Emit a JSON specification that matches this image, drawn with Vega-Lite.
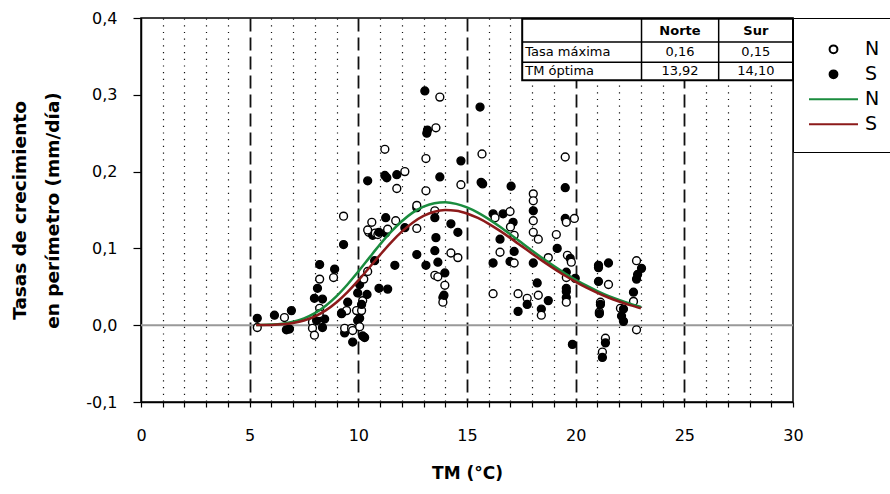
{
  "$schema": "https://vega.github.io/schema/vega-lite/v6.json",
  "width": 652,
  "height": 384,
  "autosize": {"type": "none"},
  "padding": {"left": 141, "top": 18, "right": 97, "bottom": 92},
  "background": "white",
  "config": {
    "font": "DejaVu Sans",
    "view": {"stroke": "black", "strokeWidth": 1.5},
    "axis": {"labelFont": "DejaVu Sans", "titleFont": "DejaVu Sans", "labelColor": "black", "titleColor": "black", "domainColor": "black", "tickColor": "black", "domainWidth": 1.5, "tickWidth": 1.2, "labelFlush": false, "labelOverlap": false}
  },
  "datasets": {
    "obs": [
      {"tm": 5.35, "tasa": 0.009, "serie": "S obs"},
      {"tm": 5.35, "tasa": -0.003, "serie": "N obs"},
      {"tm": 6.14, "tasa": 0.013, "serie": "S obs"},
      {"tm": 6.60, "tasa": 0.010, "serie": "N obs"},
      {"tm": 6.92, "tasa": 0.019, "serie": "S obs"},
      {"tm": 6.69, "tasa": -0.006, "serie": "S obs"},
      {"tm": 6.83, "tasa": -0.005, "serie": "S obs"},
      {"tm": 8.22, "tasa": 0.079, "serie": "S obs"},
      {"tm": 8.22, "tasa": 0.060, "serie": "N obs"},
      {"tm": 8.12, "tasa": 0.048, "serie": "S obs"},
      {"tm": 7.98, "tasa": 0.035, "serie": "S obs"},
      {"tm": 8.35, "tasa": 0.034, "serie": "S obs"},
      {"tm": 8.22, "tasa": 0.022, "serie": "N obs"},
      {"tm": 8.12, "tasa": 0.012, "serie": "S obs"},
      {"tm": 7.89, "tasa": 0.004, "serie": "N obs"},
      {"tm": 8.45, "tasa": 0.008, "serie": "S obs"},
      {"tm": 8.08, "tasa": 0.006, "serie": "S obs"},
      {"tm": 7.89, "tasa": -0.004, "serie": "N obs"},
      {"tm": 8.35, "tasa": -0.003, "serie": "S obs"},
      {"tm": 7.98, "tasa": -0.013, "serie": "N obs"},
      {"tm": 8.20, "tasa": 0.015, "serie": "N obs"},
      {"tm": 8.91, "tasa": 0.073, "serie": "S obs"},
      {"tm": 8.86, "tasa": 0.062, "serie": "N obs"},
      {"tm": 9.32, "tasa": 0.142, "serie": "N obs"},
      {"tm": 9.32, "tasa": 0.105, "serie": "S obs"},
      {"tm": 9.51, "tasa": 0.030, "serie": "S obs"},
      {"tm": 9.23, "tasa": 0.016, "serie": "N obs"},
      {"tm": 9.46, "tasa": 0.019, "serie": "N obs"},
      {"tm": 9.23, "tasa": 0.015, "serie": "S obs"},
      {"tm": 9.37, "tasa": -0.010, "serie": "S obs"},
      {"tm": 9.37, "tasa": -0.004, "serie": "N obs"},
      {"tm": 9.69, "tasa": -0.004, "serie": "N obs"},
      {"tm": 9.74, "tasa": -0.022, "serie": "S obs"},
      {"tm": 9.74, "tasa": -0.007, "serie": "N obs"},
      {"tm": 10.20, "tasa": -0.014, "serie": "S obs"},
      {"tm": 10.29, "tasa": -0.016, "serie": "S obs"},
      {"tm": 9.92, "tasa": 0.019, "serie": "N obs"},
      {"tm": 9.97, "tasa": 0.042, "serie": "S obs"},
      {"tm": 10.06, "tasa": 0.009, "serie": "S obs"},
      {"tm": 10.20, "tasa": 0.032, "serie": "N obs"},
      {"tm": 10.15, "tasa": 0.019, "serie": "N obs"},
      {"tm": 10.06, "tasa": 0.053, "serie": "S obs"},
      {"tm": 10.25, "tasa": 0.060, "serie": "N obs"},
      {"tm": 9.97, "tasa": 0.006, "serie": "S obs"},
      {"tm": 10.15, "tasa": 0.027, "serie": "S obs"},
      {"tm": 10.06, "tasa": -0.002, "serie": "N obs"},
      {"tm": 10.43, "tasa": 0.070, "serie": "N obs"},
      {"tm": 10.40, "tasa": 0.040, "serie": "S obs"},
      {"tm": 10.43, "tasa": 0.188, "serie": "S obs"},
      {"tm": 10.62, "tasa": 0.134, "serie": "N obs"},
      {"tm": 10.48, "tasa": 0.121, "serie": "N obs"},
      {"tm": 10.66, "tasa": 0.117, "serie": "S obs"},
      {"tm": 10.43, "tasa": 0.124, "serie": "N obs"},
      {"tm": 10.78, "tasa": 0.120, "serie": "N obs"},
      {"tm": 10.90, "tasa": 0.118, "serie": "N obs"},
      {"tm": 10.95, "tasa": 0.121, "serie": "S obs"},
      {"tm": 10.95, "tasa": 0.048, "serie": "S obs"},
      {"tm": 10.75, "tasa": 0.084, "serie": "S obs"},
      {"tm": 11.35, "tasa": 0.047, "serie": "S obs"},
      {"tm": 11.22, "tasa": 0.229, "serie": "N obs"},
      {"tm": 11.22, "tasa": 0.195, "serie": "S obs"},
      {"tm": 11.31, "tasa": 0.192, "serie": "S obs"},
      {"tm": 11.77, "tasa": 0.196, "serie": "S obs"},
      {"tm": 12.14, "tasa": 0.200, "serie": "N obs"},
      {"tm": 11.77, "tasa": 0.178, "serie": "N obs"},
      {"tm": 11.26, "tasa": 0.140, "serie": "S obs"},
      {"tm": 11.72, "tasa": 0.136, "serie": "N obs"},
      {"tm": 11.26, "tasa": 0.120, "serie": "S obs"},
      {"tm": 12.14, "tasa": 0.127, "serie": "S obs"},
      {"tm": 11.68, "tasa": 0.078, "serie": "S obs"},
      {"tm": 11.35, "tasa": 0.125, "serie": "N obs"},
      {"tm": 12.69, "tasa": 0.153, "serie": "S obs"},
      {"tm": 12.69, "tasa": 0.156, "serie": "N obs"},
      {"tm": 12.69, "tasa": 0.126, "serie": "N obs"},
      {"tm": 12.69, "tasa": 0.092, "serie": "S obs"},
      {"tm": 13.06, "tasa": 0.305, "serie": "S obs"},
      {"tm": 13.75, "tasa": 0.297, "serie": "N obs"},
      {"tm": 13.15, "tasa": 0.250, "serie": "S obs"},
      {"tm": 13.18, "tasa": 0.254, "serie": "S obs"},
      {"tm": 13.57, "tasa": 0.257, "serie": "N obs"},
      {"tm": 13.11, "tasa": 0.217, "serie": "N obs"},
      {"tm": 13.11, "tasa": 0.175, "serie": "N obs"},
      {"tm": 13.11, "tasa": 0.078, "serie": "S obs"},
      {"tm": 13.75, "tasa": 0.193, "serie": "S obs"},
      {"tm": 13.52, "tasa": 0.149, "serie": "N obs"},
      {"tm": 13.52, "tasa": 0.140, "serie": "S obs"},
      {"tm": 13.57, "tasa": 0.114, "serie": "S obs"},
      {"tm": 13.52, "tasa": 0.097, "serie": "S obs"},
      {"tm": 13.66, "tasa": 0.082, "serie": "S obs"},
      {"tm": 13.52, "tasa": 0.065, "serie": "N obs"},
      {"tm": 13.66, "tasa": 0.063, "serie": "N obs"},
      {"tm": 13.98, "tasa": 0.068, "serie": "S obs"},
      {"tm": 13.98, "tasa": 0.052, "serie": "N obs"},
      {"tm": 13.89, "tasa": 0.036, "serie": "S obs"},
      {"tm": 13.89, "tasa": 0.030, "serie": "N obs"},
      {"tm": 13.94, "tasa": 0.039, "serie": "S obs"},
      {"tm": 14.26, "tasa": 0.132, "serie": "S obs"},
      {"tm": 14.58, "tasa": 0.121, "serie": "S obs"},
      {"tm": 14.26, "tasa": 0.094, "serie": "N obs"},
      {"tm": 14.58, "tasa": 0.088, "serie": "N obs"},
      {"tm": 14.72, "tasa": 0.214, "serie": "S obs"},
      {"tm": 14.72, "tasa": 0.183, "serie": "N obs"},
      {"tm": 15.60, "tasa": 0.284, "serie": "S obs"},
      {"tm": 15.69, "tasa": 0.223, "serie": "N obs"},
      {"tm": 15.65, "tasa": 0.186, "serie": "S obs"},
      {"tm": 15.72, "tasa": 0.184, "serie": "S obs"},
      {"tm": 16.20, "tasa": 0.145, "serie": "S obs"},
      {"tm": 16.66, "tasa": 0.145, "serie": "S obs"},
      {"tm": 16.29, "tasa": 0.140, "serie": "N obs"},
      {"tm": 16.98, "tasa": 0.148, "serie": "N obs"},
      {"tm": 17.12, "tasa": 0.134, "serie": "S obs"},
      {"tm": 17.00, "tasa": 0.128, "serie": "N obs"},
      {"tm": 17.17, "tasa": 0.117, "serie": "N obs"},
      {"tm": 16.52, "tasa": 0.112, "serie": "S obs"},
      {"tm": 16.52, "tasa": 0.095, "serie": "N obs"},
      {"tm": 17.17, "tasa": 0.096, "serie": "S obs"},
      {"tm": 16.98, "tasa": 0.083, "serie": "S obs"},
      {"tm": 17.17, "tasa": 0.081, "serie": "N obs"},
      {"tm": 16.20, "tasa": 0.081, "serie": "S obs"},
      {"tm": 17.03, "tasa": 0.181, "serie": "S obs"},
      {"tm": 16.20, "tasa": 0.041, "serie": "N obs"},
      {"tm": 17.35, "tasa": 0.041, "serie": "N obs"},
      {"tm": 17.77, "tasa": 0.035, "serie": "N obs"},
      {"tm": 17.35, "tasa": 0.018, "serie": "S obs"},
      {"tm": 17.77, "tasa": 0.027, "serie": "S obs"},
      {"tm": 18.05, "tasa": 0.171, "serie": "N obs"},
      {"tm": 18.05, "tasa": 0.162, "serie": "N obs"},
      {"tm": 18.05, "tasa": 0.149, "serie": "S obs"},
      {"tm": 18.05, "tasa": 0.136, "serie": "N obs"},
      {"tm": 18.05, "tasa": 0.121, "serie": "N obs"},
      {"tm": 18.28, "tasa": 0.112, "serie": "N obs"},
      {"tm": 18.05, "tasa": 0.081, "serie": "S obs"},
      {"tm": 18.23, "tasa": 0.055, "serie": "S obs"},
      {"tm": 18.28, "tasa": 0.039, "serie": "N obs"},
      {"tm": 18.42, "tasa": 0.021, "serie": "S obs"},
      {"tm": 18.42, "tasa": 0.013, "serie": "N obs"},
      {"tm": 18.74, "tasa": 0.032, "serie": "S obs"},
      {"tm": 18.74, "tasa": 0.088, "serie": "N obs"},
      {"tm": 19.11, "tasa": 0.118, "serie": "N obs"},
      {"tm": 19.15, "tasa": 0.100, "serie": "S obs"},
      {"tm": 19.52, "tasa": 0.219, "serie": "N obs"},
      {"tm": 19.52, "tasa": 0.179, "serie": "S obs"},
      {"tm": 19.52, "tasa": 0.139, "serie": "S obs"},
      {"tm": 19.57, "tasa": 0.134, "serie": "N obs"},
      {"tm": 19.94, "tasa": 0.139, "serie": "N obs"},
      {"tm": 19.62, "tasa": 0.091, "serie": "N obs"},
      {"tm": 19.75, "tasa": 0.087, "serie": "S obs"},
      {"tm": 19.80, "tasa": 0.082, "serie": "N obs"},
      {"tm": 19.57, "tasa": 0.069, "serie": "S obs"},
      {"tm": 19.57, "tasa": 0.062, "serie": "N obs"},
      {"tm": 19.98, "tasa": 0.061, "serie": "S obs"},
      {"tm": 19.57, "tasa": 0.048, "serie": "S obs"},
      {"tm": 19.57, "tasa": 0.044, "serie": "S obs"},
      {"tm": 19.57, "tasa": 0.036, "serie": "S obs"},
      {"tm": 19.57, "tasa": 0.030, "serie": "N obs"},
      {"tm": 19.85, "tasa": -0.025, "serie": "S obs"},
      {"tm": 21.05, "tasa": 0.078, "serie": "S obs"},
      {"tm": 21.05, "tasa": 0.075, "serie": "S obs"},
      {"tm": 21.51, "tasa": 0.081, "serie": "S obs"},
      {"tm": 21.05, "tasa": 0.057, "serie": "S obs"},
      {"tm": 21.51, "tasa": 0.053, "serie": "N obs"},
      {"tm": 21.14, "tasa": 0.030, "serie": "N obs"},
      {"tm": 21.14, "tasa": 0.027, "serie": "S obs"},
      {"tm": 21.09, "tasa": 0.017, "serie": "N obs"},
      {"tm": 21.09, "tasa": 0.015, "serie": "S obs"},
      {"tm": 22.06, "tasa": 0.022, "serie": "N obs"},
      {"tm": 22.20, "tasa": 0.021, "serie": "S obs"},
      {"tm": 22.11, "tasa": 0.012, "serie": "S obs"},
      {"tm": 22.20, "tasa": 0.005, "serie": "S obs"},
      {"tm": 21.37, "tasa": -0.017, "serie": "N obs"},
      {"tm": 21.37, "tasa": -0.023, "serie": "S obs"},
      {"tm": 21.23, "tasa": -0.035, "serie": "N obs"},
      {"tm": 21.23, "tasa": -0.042, "serie": "S obs"},
      {"tm": 22.80, "tasa": 0.084, "serie": "N obs"},
      {"tm": 23.03, "tasa": 0.074, "serie": "S obs"},
      {"tm": 22.85, "tasa": 0.066, "serie": "S obs"},
      {"tm": 22.80, "tasa": 0.060, "serie": "S obs"},
      {"tm": 22.66, "tasa": 0.043, "serie": "S obs"},
      {"tm": 22.66, "tasa": 0.031, "serie": "N obs"},
      {"tm": 22.80, "tasa": -0.006, "serie": "N obs"}
    ],
    "ajuste": [
      {"tm": 5.3, "tasa": 0.0001, "serie": "N ajuste"},
      {"tm": 5.5, "tasa": 0.0002, "serie": "N ajuste"},
      {"tm": 6, "tasa": 0.0008, "serie": "N ajuste"},
      {"tm": 6.5, "tasa": 0.0020, "serie": "N ajuste"},
      {"tm": 7, "tasa": 0.0045, "serie": "N ajuste"},
      {"tm": 7.5, "tasa": 0.0089, "serie": "N ajuste"},
      {"tm": 8, "tasa": 0.0157, "serie": "N ajuste"},
      {"tm": 8.5, "tasa": 0.0254, "serie": "N ajuste"},
      {"tm": 9, "tasa": 0.0379, "serie": "N ajuste"},
      {"tm": 9.5, "tasa": 0.0530, "serie": "N ajuste"},
      {"tm": 10, "tasa": 0.0699, "serie": "N ajuste"},
      {"tm": 10.5, "tasa": 0.0877, "serie": "N ajuste"},
      {"tm": 11, "tasa": 0.1052, "serie": "N ajuste"},
      {"tm": 11.5, "tasa": 0.1214, "serie": "N ajuste"},
      {"tm": 12, "tasa": 0.1354, "serie": "N ajuste"},
      {"tm": 12.5, "tasa": 0.1466, "serie": "N ajuste"},
      {"tm": 13, "tasa": 0.1544, "serie": "N ajuste"},
      {"tm": 13.5, "tasa": 0.1589, "serie": "N ajuste"},
      {"tm": 14, "tasa": 0.1600, "serie": "N ajuste"},
      {"tm": 14.5, "tasa": 0.1580, "serie": "N ajuste"},
      {"tm": 15, "tasa": 0.1534, "serie": "N ajuste"},
      {"tm": 15.5, "tasa": 0.1466, "serie": "N ajuste"},
      {"tm": 16, "tasa": 0.1381, "serie": "N ajuste"},
      {"tm": 16.5, "tasa": 0.1285, "serie": "N ajuste"},
      {"tm": 17, "tasa": 0.1182, "serie": "N ajuste"},
      {"tm": 17.5, "tasa": 0.1076, "serie": "N ajuste"},
      {"tm": 18, "tasa": 0.0970, "serie": "N ajuste"},
      {"tm": 18.5, "tasa": 0.0867, "serie": "N ajuste"},
      {"tm": 19, "tasa": 0.0769, "serie": "N ajuste"},
      {"tm": 19.5, "tasa": 0.0677, "serie": "N ajuste"},
      {"tm": 20, "tasa": 0.0592, "serie": "N ajuste"},
      {"tm": 20.5, "tasa": 0.0515, "serie": "N ajuste"},
      {"tm": 21, "tasa": 0.0445, "serie": "N ajuste"},
      {"tm": 21.5, "tasa": 0.0382, "serie": "N ajuste"},
      {"tm": 22, "tasa": 0.0328, "serie": "N ajuste"},
      {"tm": 22.5, "tasa": 0.0279, "serie": "N ajuste"},
      {"tm": 23, "tasa": 0.0237, "serie": "N ajuste"},
      {"tm": 5.3, "tasa": 0.0001, "serie": "S ajuste"},
      {"tm": 5.5, "tasa": 0.0001, "serie": "S ajuste"},
      {"tm": 6, "tasa": 0.0004, "serie": "S ajuste"},
      {"tm": 6.5, "tasa": 0.0012, "serie": "S ajuste"},
      {"tm": 7, "tasa": 0.0030, "serie": "S ajuste"},
      {"tm": 7.5, "tasa": 0.0062, "serie": "S ajuste"},
      {"tm": 8, "tasa": 0.0115, "serie": "S ajuste"},
      {"tm": 8.5, "tasa": 0.0193, "serie": "S ajuste"},
      {"tm": 9, "tasa": 0.0299, "serie": "S ajuste"},
      {"tm": 9.5, "tasa": 0.0431, "serie": "S ajuste"},
      {"tm": 10, "tasa": 0.0583, "serie": "S ajuste"},
      {"tm": 10.5, "tasa": 0.0748, "serie": "S ajuste"},
      {"tm": 11, "tasa": 0.0916, "serie": "S ajuste"},
      {"tm": 11.5, "tasa": 0.1076, "serie": "S ajuste"},
      {"tm": 12, "tasa": 0.1218, "serie": "S ajuste"},
      {"tm": 12.5, "tasa": 0.1335, "serie": "S ajuste"},
      {"tm": 13, "tasa": 0.1423, "serie": "S ajuste"},
      {"tm": 13.5, "tasa": 0.1478, "serie": "S ajuste"},
      {"tm": 14, "tasa": 0.1499, "serie": "S ajuste"},
      {"tm": 14.5, "tasa": 0.1491, "serie": "S ajuste"},
      {"tm": 15, "tasa": 0.1455, "serie": "S ajuste"},
      {"tm": 15.5, "tasa": 0.1396, "serie": "S ajuste"},
      {"tm": 16, "tasa": 0.1320, "serie": "S ajuste"},
      {"tm": 16.5, "tasa": 0.1231, "serie": "S ajuste"},
      {"tm": 17, "tasa": 0.1134, "serie": "S ajuste"},
      {"tm": 17.5, "tasa": 0.1033, "serie": "S ajuste"},
      {"tm": 18, "tasa": 0.0931, "serie": "S ajuste"},
      {"tm": 18.5, "tasa": 0.0831, "serie": "S ajuste"},
      {"tm": 19, "tasa": 0.0737, "serie": "S ajuste"},
      {"tm": 19.5, "tasa": 0.0647, "serie": "S ajuste"},
      {"tm": 20, "tasa": 0.0565, "serie": "S ajuste"},
      {"tm": 20.5, "tasa": 0.0489, "serie": "S ajuste"},
      {"tm": 21, "tasa": 0.0422, "serie": "S ajuste"},
      {"tm": 21.5, "tasa": 0.0361, "serie": "S ajuste"},
      {"tm": 22, "tasa": 0.0308, "serie": "S ajuste"},
      {"tm": 22.5, "tasa": 0.0261, "serie": "S ajuste"},
      {"tm": 23, "tasa": 0.0221, "serie": "S ajuste"}
    ],
    "cero": [
      {"x1": 0, "x2": 30, "y": 0}
    ],
    "tablaMarco": [
      {"x1": 17.54, "x2": 30, "y1": 0.399, "y2": 0.319}
    ],
    "tablaLineas": [
      {"x1": 17.54, "x2": 30, "y1": 0.3686, "y2": 0.3686},
      {"x1": 17.54, "x2": 30, "y1": 0.3425, "y2": 0.3425},
      {"x1": 23.03, "x2": 23.03, "y1": 0.399, "y2": 0.319},
      {"x1": 26.58, "x2": 26.58, "y1": 0.399, "y2": 0.319}
    ],
    "tablaCabecera": [
      {"tx": 24.80, "ty": 0.3835, "texto": "Norte"},
      {"tx": 28.29, "ty": 0.3835, "texto": "Sur"}
    ],
    "tablaFilas": [
      {"tx": 17.68, "ty": 0.3556, "texto": "Tasa máxima"},
      {"tx": 17.68, "ty": 0.3307, "texto": "TM óptima"}
    ],
    "tablaValores": [
      {"tx": 24.80, "ty": 0.3556, "texto": "0,16"},
      {"tx": 28.29, "ty": 0.3556, "texto": "0,15"},
      {"tx": 24.80, "ty": 0.3307, "texto": "13,92"},
      {"tx": 28.29, "ty": 0.3307, "texto": "14,10"}
    ]
  },
  "layer": [
    {
      "data": {"name": "cero"},
      "mark": {"type": "rule", "color": "#999999", "strokeWidth": 2},
      "encoding": {
        "x": {"field": "x1", "type": "quantitative", "scale": {"domain": [0, 30], "nice": false, "zero": false}},
        "x2": {"field": "x2"},
        "y": {"field": "y", "type": "quantitative", "scale": {"domain": [-0.1, 0.4], "nice": false, "zero": false}}
      }
    },
    {
      "data": {"name": "obs"},
      "mark": {"type": "point", "shape": "circle", "size": 62, "strokeWidth": 1.4, "filled": false, "opacity": 1},
      "encoding": {
        "x": {
          "field": "tm", "type": "quantitative",
          "scale": {"domain": [0, 30], "nice": false, "zero": false},
          "axis": {
            "title": "TM (°C)", "titleFontSize": 17, "titleFontWeight": "bold", "titlePadding": 22,
            "values": [0,1,2,3,4,5,6,7,8,9,10,11,12,13,14,15,16,17,18,19,20,21,22,23,24,25,26,27,28,29,30],
            "tickCount": 40,
            "labelExpr": "datum.value % 5 == 0 ? datum.label : ''",
            "labelFontSize": 16, "labelPadding": 20, "tickSize": 5,
            "grid": true, "gridColor": "#111111",
            "gridDash": {"condition": {"test": "datum.value % 5 == 0", "value": [13, 6]}, "value": [1.2, 5.5]},
            "gridWidth": {"condition": {"test": "datum.value % 5 == 0", "value": 1.8}, "value": 1.2},
            "gridOpacity": {"condition": {"test": "datum.value == 0 || datum.value == 30", "value": 0}, "value": 1}
          }
        },
        "y": {
          "field": "tasa", "type": "quantitative",
          "scale": {"domain": [-0.1, 0.4], "nice": false, "zero": false},
          "axis": {
            "title": ["Tasas de crecimiento", "en perímetro (mm/día)"],
            "titleFontSize": 18.5, "titleFontWeight": "bold", "titleLineHeight": 33, "titlePadding": 23,
            "values": [-0.1, 0, 0.1, 0.2, 0.3, 0.4],
            "labelExpr": "replace(replace(format(datum.value, '.1f'), '.', ','), '−', '-')",
            "labelFontSize": 16, "labelPadding": 16, "tickSize": 8, "grid": false
          }
        },
        "color": {
          "field": "serie", "type": "nominal",
          "scale": {"domain": ["N obs", "S obs", "N ajuste", "S ajuste"], "range": ["black", "black", "#1a8c3e", "#8c1a1a"]},
          "legend": {
            "title": " ", "titleFontSize": 4, "titlePadding": 0,
            "orient": "none", "legendX": 652, "legendY": 0,
            "padding": 15, "strokeColor": "black", "fillColor": "white",
            "labelFontSize": 19, "labelFont": "DejaVu Sans", "labelColor": "black",
            "labelExpr": "substring(datum.label, 0, 1) + '\u00a0\u00a0\u00a0\u00a0\u00a0\u00a0'",
            "symbolSize": 2400, "symbolStrokeWidth": 2, "clipHeight": 24.7, "rowPadding": 0, "labelOffset": 6,
            "encoding": {
              "symbols": {
                "shape": {"condition": {"test": "datum.value == 'N ajuste' || datum.value == 'S ajuste'", "value": "stroke"}, "value": "M0.16,0A0.16,0.16,0,1,1,-0.16,0A0.16,0.16,0,1,1,0.16,0Z"},
                "fill": {"condition": [{"test": "datum.value == 'S obs'", "value": "black"}, {"test": "datum.value == 'N obs'", "value": "white"}], "value": "transparent"},
                "stroke": {"condition": [{"test": "datum.value == 'N ajuste'", "value": "#1a8c3e"}, {"test": "datum.value == 'S ajuste'", "value": "#8c1a1a"}], "value": "black"},
                "opacity": {"value": 1}
              }
            }
          }
        },
        "fill": {
          "field": "serie", "type": "nominal",
          "scale": {"domain": ["N obs", "S obs"], "range": ["white", "black"]},
          "legend": null
        }
      }
    },
    {
      "data": {"name": "ajuste"},
      "mark": {"type": "line", "strokeWidth": 2.5, "interpolate": "monotone"},
      "encoding": {
        "x": {"field": "tm", "type": "quantitative", "scale": {"domain": [0, 30], "nice": false, "zero": false}},
        "y": {"field": "tasa", "type": "quantitative", "scale": {"domain": [-0.1, 0.4], "nice": false, "zero": false}},
        "color": {"field": "serie", "type": "nominal", "scale": {"domain": ["N obs", "S obs", "N ajuste", "S ajuste"], "range": ["black", "black", "#1a8c3e", "#8c1a1a"]}}
      }
    },
    {
      "data": {"name": "tablaMarco"},
      "mark": {"type": "rect", "fill": "white", "stroke": "black", "strokeWidth": 2},
      "encoding": {
        "x": {"field": "x1", "type": "quantitative"},
        "x2": {"field": "x2"},
        "y": {"field": "y1", "type": "quantitative"},
        "y2": {"field": "y2"}
      }
    },
    {
      "data": {"name": "tablaLineas"},
      "mark": {"type": "rule", "color": "black", "strokeWidth": 1.5},
      "encoding": {
        "x": {"field": "x1", "type": "quantitative"},
        "x2": {"field": "x2"},
        "y": {"field": "y1", "type": "quantitative"},
        "y2": {"field": "y2"}
      }
    },
    {
      "data": {"name": "tablaCabecera"},
      "mark": {"type": "text", "font": "DejaVu Sans", "fontSize": 13, "fontWeight": "bold", "align": "center", "baseline": "middle", "color": "black"},
      "encoding": {
        "x": {"field": "tx", "type": "quantitative"},
        "y": {"field": "ty", "type": "quantitative"},
        "text": {"field": "texto"}
      }
    },
    {
      "data": {"name": "tablaFilas"},
      "mark": {"type": "text", "font": "DejaVu Sans", "fontSize": 13, "align": "left", "baseline": "middle", "color": "black"},
      "encoding": {
        "x": {"field": "tx", "type": "quantitative"},
        "y": {"field": "ty", "type": "quantitative"},
        "text": {"field": "texto"}
      }
    },
    {
      "data": {"name": "tablaValores"},
      "mark": {"type": "text", "font": "DejaVu Sans", "fontSize": 13, "align": "center", "baseline": "middle", "color": "black"},
      "encoding": {
        "x": {"field": "tx", "type": "quantitative"},
        "y": {"field": "ty", "type": "quantitative"},
        "text": {"field": "texto"}
      }
    }
  ]
}
